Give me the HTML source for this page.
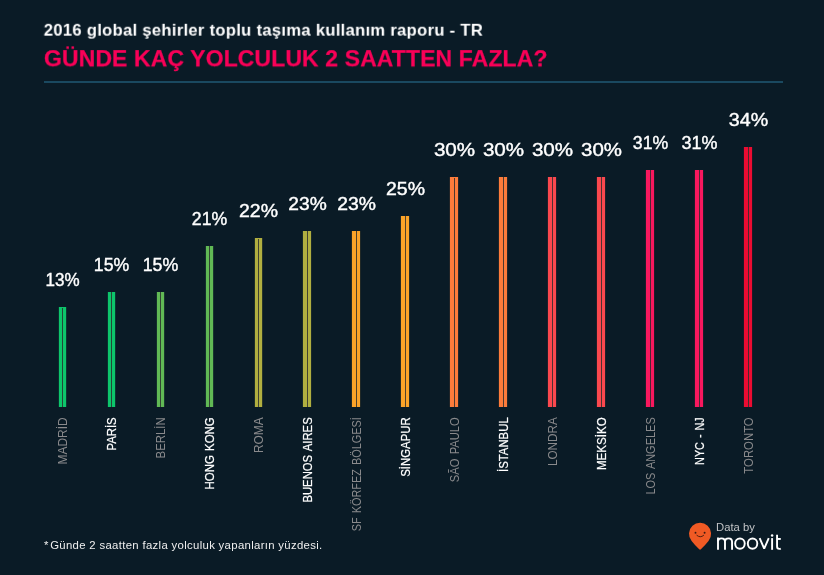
<!DOCTYPE html>
<html lang="tr">
<head>
<meta charset="utf-8">
<title>Günde kaç yolculuk 2 saatten fazla?</title>
<style>
  html, body { margin: 0; padding: 0; }
  body {
    width: 824px; height: 575px; overflow: hidden; position: relative;
    background: #0a1b26;
    font-family: "Liberation Sans", sans-serif;
    color: #fff;
  }
  .abs { position: absolute; white-space: pre; line-height: 1; transform-origin: 0 0; will-change: transform; }
  #sub   { left: 43px; top: 21px; font-size: 16.2px; font-weight: 700; letter-spacing: 0.3px; transform: translate(0.8px, 0.78px) scale(1.0235, 0.99); }
  #title { left: 43px; top: 48px; font-size: 23px; font-weight: 700; color: #f90058; letter-spacing: 0.1px; -webkit-text-stroke: 0.25px #f90058; transform: translate(0.9px, 0.24px) scale(1.0, 0.95); }
  #rule  { position: absolute; left: 44px; top: 81px; width: 739px; height: 2px; background: #1a4960; }
  #note  { left: 44px; top: 540.1px; font-size: 10.5px; letter-spacing: 0.3px; transform: scaleX(1.081); color: #efefef; }
  svg { position: absolute; left: 0; top: 0; will-change: transform; }
  .pct { font-size: 18px; fill: #fff; text-anchor: middle; stroke: #fff; stroke-width: 0.4px; }
  .c   { font-size: 12px; text-anchor: end; word-spacing: 1.2px; }
  .g   { fill: #8a8a8c; }
  .w   { fill: #fff; stroke: #fff; stroke-width: 0.22px; }
</style>
</head>
<body>
<div id="sub" class="abs">2016 global şehirler toplu taşıma kullanım raporu - TR</div>
<div id="title" class="abs">GÜNDE KAÇ YOLCULUK 2 SAATTEN FAZLA?</div>
<div id="rule"></div>

<svg width="824" height="575" viewBox="0 0 824 575" font-family="Liberation Sans, sans-serif">
  <!-- bars inserted here -->
  <g id="bars">
  <rect x="58.87" y="307" width="7.3" height="100" fill="#0dc56b"/>
  <rect x="62.04" y="308" width="0.92" height="99" fill="#2b2e2e" fill-opacity="0.9"/>
  <text class="pct" x="62.50" y="285.75" textLength="34.1" lengthAdjust="spacingAndGlyphs">13%</text>
  <text class="c g" transform="translate(66.80,417.3) rotate(-90)" textLength="47.2" lengthAdjust="spacingAndGlyphs">MADRİD</text>
  <rect x="107.87" y="292" width="7.3" height="115" fill="#0dc56b"/>
  <rect x="111.04" y="292" width="0.92" height="115" fill="#2b2e2e" fill-opacity="0.9"/>
  <text class="pct" x="111.50" y="270.75" textLength="35.4" lengthAdjust="spacingAndGlyphs">15%</text>
  <text class="c w" transform="translate(115.80,417.3) rotate(-90)" textLength="33.3" lengthAdjust="spacingAndGlyphs">PARİS</text>
  <rect x="156.87" y="292" width="7.3" height="115" fill="#61b955"/>
  <rect x="160.04" y="292" width="0.92" height="115" fill="#2b2e2e" fill-opacity="0.9"/>
  <text class="pct" x="160.50" y="270.75" textLength="35.6" lengthAdjust="spacingAndGlyphs">15%</text>
  <text class="c g" transform="translate(164.80,417.3) rotate(-90)" textLength="41.1" lengthAdjust="spacingAndGlyphs">BERLİN</text>
  <rect x="205.87" y="246" width="7.3" height="161" fill="#61b955"/>
  <rect x="209.04" y="246" width="0.92" height="161" fill="#2b2e2e" fill-opacity="0.9"/>
  <text class="pct" x="209.50" y="224.75" textLength="35.4" lengthAdjust="spacingAndGlyphs">21%</text>
  <text class="c w" transform="translate(213.80,417.3) rotate(-90)" textLength="72.2" lengthAdjust="spacingAndGlyphs">HONG KONG</text>
  <rect x="254.87" y="238" width="7.3" height="169" fill="#b1af40"/>
  <rect x="258.04" y="239" width="0.92" height="168" fill="#2b2e2e" fill-opacity="0.9"/>
  <text class="pct" x="258.50" y="216.75" textLength="39.0" lengthAdjust="spacingAndGlyphs">22%</text>
  <text class="c g" transform="translate(262.80,417.3) rotate(-90)" textLength="35.8" lengthAdjust="spacingAndGlyphs">ROMA</text>
  <rect x="302.90" y="231" width="8.2" height="176" fill="#b1af40"/>
  <rect x="307.04" y="231" width="0.92" height="176" fill="#2b2e2e" fill-opacity="0.9"/>
  <text class="pct" x="307.50" y="209.75" textLength="38.4" lengthAdjust="spacingAndGlyphs">23%</text>
  <text class="c w" transform="translate(311.80,417.3) rotate(-90)" textLength="85.3" lengthAdjust="spacingAndGlyphs">BUENOS AIRES</text>
  <rect x="351.90" y="231" width="8.2" height="176" fill="#fba328"/>
  <rect x="356.04" y="231" width="0.92" height="176" fill="#2b2e2e" fill-opacity="0.9"/>
  <text class="pct" x="356.50" y="209.75" textLength="38.7" lengthAdjust="spacingAndGlyphs">23%</text>
  <text class="c g" transform="translate(360.80,417.3) rotate(-90)" textLength="113.9" lengthAdjust="spacingAndGlyphs">SF KÖRFEZ BÖLGESİ</text>
  <rect x="400.90" y="216" width="8.2" height="191" fill="#fba328"/>
  <rect x="405.04" y="216" width="0.92" height="191" fill="#2b2e2e" fill-opacity="0.9"/>
  <text class="pct" x="405.50" y="194.75" textLength="39.0" lengthAdjust="spacingAndGlyphs">25%</text>
  <text class="c w" transform="translate(409.80,417.3) rotate(-90)" textLength="59.5" lengthAdjust="spacingAndGlyphs">SİNGAPUR</text>
  <rect x="449.90" y="177" width="8.2" height="230" fill="#fd7c3b"/>
  <rect x="454.04" y="178" width="0.92" height="229" fill="#2b2e2e" fill-opacity="0.9"/>
  <text class="pct" x="454.50" y="155.75" textLength="41.2" lengthAdjust="spacingAndGlyphs">30%</text>
  <text class="c g" transform="translate(458.80,417.3) rotate(-90)" textLength="64.9" lengthAdjust="spacingAndGlyphs">SÃO PAULO</text>
  <rect x="498.90" y="177" width="8.2" height="230" fill="#fd7c3b"/>
  <rect x="503.04" y="177" width="0.92" height="230" fill="#2b2e2e" fill-opacity="0.9"/>
  <text class="pct" x="503.50" y="155.75" textLength="41.2" lengthAdjust="spacingAndGlyphs">30%</text>
  <text class="c w" transform="translate(507.80,417.3) rotate(-90)" textLength="54.7" lengthAdjust="spacingAndGlyphs">İSTANBUL</text>
  <rect x="547.90" y="177" width="8.2" height="230" fill="#fb484e"/>
  <rect x="552.04" y="177" width="0.92" height="230" fill="#2b2e2e" fill-opacity="0.9"/>
  <text class="pct" x="552.50" y="155.75" textLength="41.2" lengthAdjust="spacingAndGlyphs">30%</text>
  <text class="c g" transform="translate(556.80,417.3) rotate(-90)" textLength="48.8" lengthAdjust="spacingAndGlyphs">LONDRA</text>
  <rect x="596.90" y="177" width="8.2" height="230" fill="#fb484e"/>
  <rect x="601.04" y="177" width="0.92" height="230" fill="#2b2e2e" fill-opacity="0.9"/>
  <text class="pct" x="601.50" y="155.75" textLength="40.9" lengthAdjust="spacingAndGlyphs">30%</text>
  <text class="c w" transform="translate(605.80,417.3) rotate(-90)" textLength="52.8" lengthAdjust="spacingAndGlyphs">MEKSİKO</text>
  <rect x="645.90" y="170" width="8.2" height="237" fill="#f9185e"/>
  <rect x="650.04" y="170" width="0.92" height="237" fill="#2b2e2e" fill-opacity="0.9"/>
  <text class="pct" x="650.50" y="148.75" textLength="35.4" lengthAdjust="spacingAndGlyphs">31%</text>
  <text class="c g" transform="translate(654.80,417.3) rotate(-90)" textLength="77.3" lengthAdjust="spacingAndGlyphs">LOS ANGELES</text>
  <rect x="694.90" y="170" width="8.2" height="237" fill="#f9185e"/>
  <rect x="699.04" y="170" width="0.92" height="237" fill="#2b2e2e" fill-opacity="0.9"/>
  <text class="pct" x="699.50" y="148.75" textLength="35.9" lengthAdjust="spacingAndGlyphs">31%</text>
  <text class="c w" transform="translate(703.80,417.3) rotate(-90)" textLength="47.6" lengthAdjust="spacingAndGlyphs">NYC - NJ</text>
  <rect x="743.90" y="147" width="8.2" height="260" fill="#ec0c32"/>
  <rect x="748.04" y="147" width="0.92" height="260" fill="#2b2e2e" fill-opacity="0.9"/>
  <text class="pct" x="748.50" y="125.75" textLength="39.3" lengthAdjust="spacingAndGlyphs">34%</text>
  <text class="c g" transform="translate(752.80,417.3) rotate(-90)" textLength="56.4" lengthAdjust="spacingAndGlyphs">TORONTO</text>
  </g>
  <!-- moovit logo -->
  <g id="logo">
    <path d="M691.6,540.9 A11.05,11.05 0 1 1 708.5,540.9 Q705.6,544.6 700.9,549.3 Q700.05,550.2 699.2,549.3 Q694.5,544.6 691.6,540.9 Z" fill="#f05a24"/>
    <circle cx="695.5" cy="532.7" r="0.95" fill="#3b1a12"/>
    <circle cx="704.6" cy="532.7" r="0.95" fill="#3b1a12"/>
    <path d="M696.9,535.4 Q700.25,538.3 703.6,535.4" fill="none" stroke="#4a1d10" stroke-width="0.95" stroke-linecap="round"/>
    <text x="716" y="530.9" font-size="10" fill="#c2c4c6" textLength="38.8" lengthAdjust="spacingAndGlyphs">Data by</text>
    <g fill="none" stroke="#fff" stroke-width="1.9" stroke-linejoin="round">
      <path d="M718,549.8 V537.5"/>
      <path d="M718,541.6 C718,539.3 719.4,538.35 721.5,538.35 C723.6,538.35 725,539.3 725,541.8 V549.8"/>
      <path d="M725,541.6 C725,539.3 726.4,538.35 728.5,538.35 C730.6,538.35 732.05,539.3 732.05,541.8 V549.8"/>
      <ellipse cx="739.95" cy="543.6" rx="4.8" ry="5.15"/>
      <ellipse cx="752.55" cy="543.6" rx="4.75" ry="5.15"/>
      <path d="M759.65,538.1 L764.2,548.7 L768.75,538.1" stroke-linejoin="bevel"/>
      <path d="M772.1,538.1 V549.8"/>
      <path d="M777.05,534.8 V546.6 C777.05,548.2 778,548.85 779.2,548.85 C779.9,548.85 780.4,548.75 780.8,548.55"/>
      <path d="M777,538.95 H780.8"/>
    </g>
    <circle cx="772.1" cy="535.6" r="1.25" fill="#fff"/>
  </g>
</svg>

<div id="note" class="abs"><span style="margin-right:-1.9px">*</span> Günde 2 saatten fazla yolculuk yapanların yüzdesi.</div>
</body>
</html>
